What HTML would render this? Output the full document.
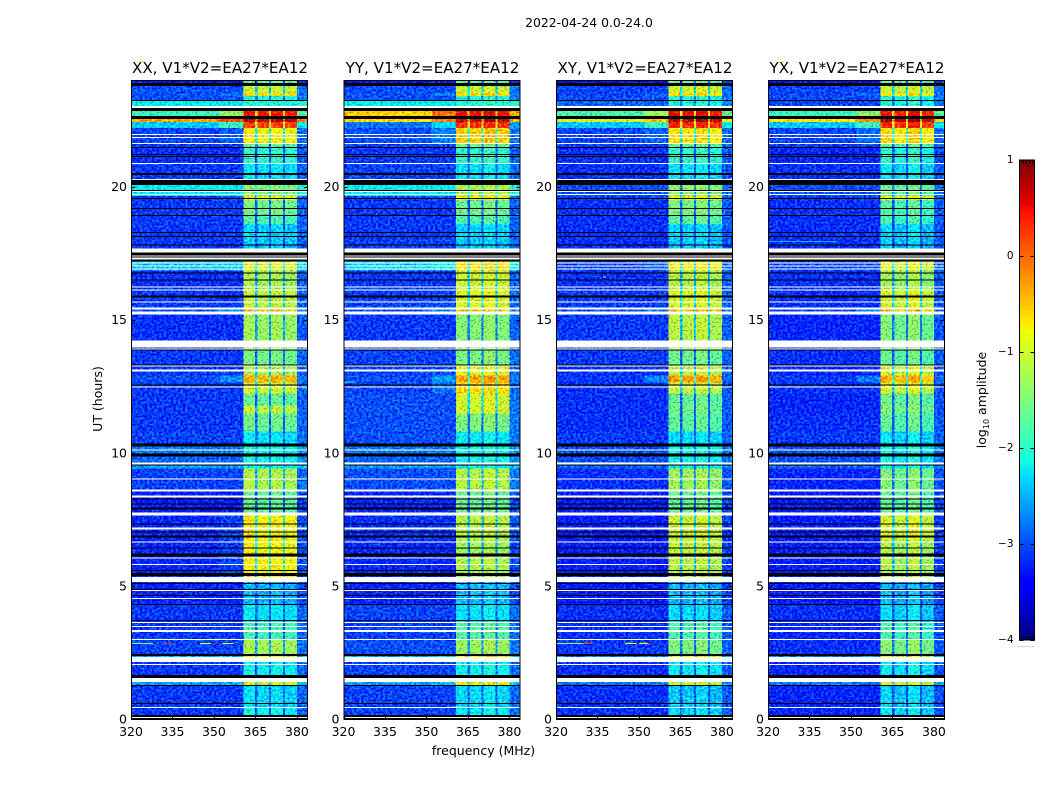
<!DOCTYPE html>
<html>
<head>
<meta charset="utf-8">
<title>2022-04-24 0.0-24.0</title>
<style>
html,body{margin:0;padding:0;background:#fff;width:1050px;height:800px;overflow:hidden}
svg{display:block}
text{font-family:"DejaVu Sans","Liberation Sans",sans-serif;fill:#000}
</style>
</head>
<body>
<svg id="figure" xmlns="http://www.w3.org/2000/svg" width="1050" height="800" viewBox="0 0 1050 800">
<defs>
<filter id="speckle" filterUnits="userSpaceOnUse" x="0" y="0" width="1050" height="800" color-interpolation-filters="sRGB">
<feTurbulence type="fractalNoise" baseFrequency="0.42 0.5" numOctaves="1" seed="4" result="n"/>
<feColorMatrix in="n" type="matrix" values="0.7 0 0 0 0.15  3 0 0 0 -1  0 0 0.6 0 0.2  0 0 0 0 1" result="c"/>
<feComposite in="c" in2="SourceAlpha" operator="in" result="clipped"/>
<feComposite in="SourceGraphic" in2="clipped" operator="arithmetic" k1="0" k2="1" k3="0.5" k4="-0.25"/>
</filter>
</defs>
<text x="589" y="27" font-size="12.4" text-anchor="middle">2022-04-24 0.0-24.0</text>
<text x="483.500" y="755" font-size="12.5" text-anchor="middle">frequency (MHz)</text>
<text x="0" y="0" font-size="12.5" text-anchor="middle" transform="translate(102 399) rotate(-90)">UT (hours)</text>
<text x="0" y="0" font-size="12.5" text-anchor="middle" transform="translate(986 400) rotate(-90)">log<tspan font-size="8" dy="3">10</tspan><tspan dy="-3"> amplitude</tspan></text>
</svg>
<script>
// Time sampling of the spectrogram rows and frequency/time ticks
const hoursPerBin = 0.0375;
const totalBins = 640;
const freqMin = 320;
const freqMax = 384;
const freqTicks = [320, 335, 350, 365, 380];
const utTicks = [0, 5, 10, 15, 20];
const colorTicks = [1, 0, -1, -2, -3, -4];
const colorTickLabels = ['1', '0', '\u22121', '\u22122', '\u22123', '\u22124'];
const polarisations = ['XX', 'YY', 'XY', 'YX'];
const panelLefts = [131, 343.5, 556, 768];

// Spectral windows (MHz)
const subbandLow = [360.6, 365.8, 370.7, 375.7];
const subbandHigh = [364.9, 369.9, 374.9, 380.0];

// Start bin of each level zone (time ascending)
const zoneStart = [0,11,34,41,57,64,79,97,115,137,163,179,204,228,251,254,263,273,288,306,314,326,337,344,355,370,405,411,431,449,458,471,481,496,506,520,524,535,556,572,576,592,598,601,609,620,624,627,634];

// log10 amplitude off-band, per zone
const bgXX = [-3.1,-3.1,-2.6,-3.1,-2.5,-3.05,-3.1,-3.1,-3.2,-3.2,-3.2,-3.2,-3.25,-3.05,-2.6,-2.9,-2.8,-3.05,-3.1,-3.1,-3.1,-3.1,-3.0,-3.1,-3.1,-3.15,-3.0,-3.1,-3.15,-2.45,-3.1,-3.1,-3.1,-3.1,-3.1,-3.1,-2.2,-3.1,-3.15,-3.1,-3.05,-2.4,-0.35,-1.9,-2.2,-3,-3,-3,-3.3];
const bgYY = [-3.05,-3.05,-2.6,-3.05,-2.5,-3.0,-3.05,-3.05,-3.2,-3.2,-3.2,-3.15,-3.2,-3.0,-2.6,-2.9,-2.8,-3.0,-3.0,-3.0,-3.0,-3.05,-3.0,-3.05,-3.05,-3.1,-3.0,-3.05,-3.1,-2.35,-3.05,-3.05,-3.1,-3.1,-3.1,-3.05,-2.2,-3.05,-3.1,-3.05,-3.0,-2.8,-0.6,-0.55,-2.2,-3,-3,-3,-3.3];
const bgXY = [-3.15,-3.15,-2.8,-3.15,-2.8,-3.1,-3.15,-3.15,-3.25,-3.25,-3.25,-3.25,-3.25,-3.15,-2.9,-3.0,-3.0,-3.1,-3.15,-3.15,-3.15,-3.15,-3.1,-3.15,-3.1,-3.1,-3.05,-3.1,-3.15,-3.05,-3.15,-3.15,-3.15,-3.15,-3.15,-3.1,-3.0,-3.15,-3.15,-3.1,-3.05,-2.4,-1.0,-1.8,-2.9,-3,-3.05,-3.05,-3.3];
const bgYX = [-3.2,-3.2,-2.8,-3.2,-2.8,-3.15,-3.2,-3.15,-3.25,-3.25,-3.25,-3.25,-3.25,-3.2,-2.9,-3.0,-3.0,-3.1,-3.15,-3.2,-3.2,-3.15,-3.1,-3.2,-3.15,-3.2,-3.05,-3.15,-3.15,-3.05,-3.15,-3.15,-3.15,-3.15,-3.15,-3.1,-3.0,-3.15,-3.2,-3.1,-3.05,-2.4,-0.7,-1.9,-3.05,-3,-3.05,-3.05,-3.3];

// log10 amplitude in the spectral windows, per zone
const bandXX = [-2.15,-2.3,-0.95,-2.15,-0.8,-1.25,-1.85,-2.25,-2.5,-0.75,-0.8,-0.75,-1.65,-1.2,-2.2,-2.1,-2.1,-2.25,-1.6,-1.1,-1.65,-1.0,-0.4,-1.2,-1.55,-1.3,-0.45,-1.1,-1.25,-0.9,-2.3,-2.4,-2.35,-1.8,-1.55,-0.8,-1.45,-2.25,-1.95,-1.7,-0.8,0.2,0.8,0.5,-2.05,-2.0,-0.6,-1.05,-1.6];
const bandYY = [-2.2,-2.3,-0.75,-2.15,-0.7,-1.3,-1.75,-2.25,-2.45,-1.2,-1.3,-1.15,-1.6,-1.15,-2.2,-2.1,-2.1,-2.2,-1.5,-1.0,-1.0,-0.6,-0.3,-0.9,-1.5,-1.45,-0.5,-0.95,-1.05,-0.65,-2.3,-2.4,-2.35,-1.8,-1.6,-0.8,-1.2,-2.25,-1.95,-1.6,-0.55,0.3,0.8,0.55,-2.0,-2.0,-0.6,-1.05,-1.7];
const bandXY = [-2.3,-2.4,-1.0,-2.2,-0.8,-1.5,-1.8,-2.3,-2.5,-1.15,-1.1,-1.05,-1.65,-1.3,-2.2,-2.1,-2.1,-2.3,-1.7,-1.6,-1.65,-1.1,-0.3,-1.1,-1.6,-1.15,-0.45,-1.0,-1.2,-0.75,-2.3,-2.4,-2.35,-1.7,-1.5,-0.8,-1.4,-2.25,-1.95,-1.7,-0.7,0.35,0.85,0.55,-2.05,-2.0,-0.65,-1.0,-1.6];
const bandYX = [-2.25,-2.35,-1.0,-2.2,-0.9,-1.45,-1.85,-2.3,-2.5,-1.2,-1.2,-1.0,-1.65,-1.5,-2.2,-2.1,-2.1,-2.25,-1.7,-1.5,-1.6,-1.0,-0.4,-1.0,-1.65,-1.5,-0.45,-1.0,-1.3,-0.9,-2.3,-2.4,-2.35,-1.85,-1.75,-0.85,-1.6,-2.25,-2.0,-1.75,-0.65,0.35,0.85,0.5,-2.05,-2.0,-0.7,-1.05,-1.6];

// Per-window offsets in log10 amplitude
const tiltXX = [0.05, -0.02, 0.02, -0.05];
const tiltYY = [0.0, 0.0, 0.08, -0.02];
const tiltXY = [0.02, 0.0, 0.06, -0.08];
const tiltYX = [0.04, -0.08, 0.1, -0.12];

// Flagged (no data) rows: start bin and duration in bins
const whiteStart = [612,585,582,576,556,540,528,525,467,463,460,456,453,450,432,429,417,410,405,372,370,353,348,332,269,255,240,228,222,204,190,177,161,154,137,128,120,96,92,87,79,57,54,37,11,1];
const whiteLen = [2,1,1,1,1,1,1,1,4,1,2,1,1,1,1,1,1,2,3,7,1,1,2,1,1,2,1,2,2,3,2,1,1,1,5,1,1,1,1,2,1,5,1,4,1,1];
const blackStart = [634,619,609,601,572,565,563,545,535,529,521,511,504,487,483,474,464,462,458,446,439,422,369,354,334,273,263,254,220,215,210,195,187,182,171,163,148,143,135,129,123,114,98,63,41,33,15,2,0];
const blackLen = [3,1,3,3,1,1,1,2,5,1,1,1,1,1,1,1,3,1,2,1,1,2,1,1,1,3,3,1,1,1,2,1,1,2,1,3,1,3,1,1,1,1,1,2,3,1,1,2,1];

// Narrow-band interference tracks: panel index, start/end MHz, bin, log10 amplitude
const rfiPanel = [0,0,0,0,0,2,2,2,2,2,3,1,0,2,3,0];
const rfiFreqLow = [320,333,345,350,353,320,330,345,350,353.5,320,320,324,337,325,335];
const rfiFreqHigh = [328,335,349,351,357,331,333,349,353,354.5,345,324,325,338,326,336];
const rfiBin = [75,75,75,75,75,75,75,75,75,75,478,337,658,442,658,458];
const rfiLevel = [-1.6,0.3,-1.0,0.3,-0.9,-1.4,0.2,-1.0,-0.8,0.4,-2.5,-2.0,-1.0,-0.8,-1.0,-1.5];

// Colour bar range
const colorMin = -4;
const colorMax = 1;
const colorSteps = 256;

const panelBg = [bgXX, bgYY, bgXY, bgYX];
const panelBand = [bandXX, bandYY, bandXY, bandYX];
const panelTilt = [tiltXX, tiltYY, tiltXY, tiltYX];

const PANEL_W = 177;
const PLOT_TOP = 80;
const PLOT_BOTTOM = 719;
const CB_X = 1019.5;
const CB_W = 15;
const CB_TOP = 160;
const CB_BOTTOM = 640;

const svg = document.getElementById('figure');
const NS = 'http://www.w3.org/2000/svg';

function svgEl(parent, tag, attrs) {
  const el = document.createElementNS(NS, tag);
  for (const k in attrs) el.setAttribute(k, attrs[k]);
  parent.appendChild(el);
  return el;
}
function xScale(panel, mhz) {
  return panelLefts[panel] + (mhz - freqMin) * PANEL_W / (freqMax - freqMin);
}
function yScale(hours) {
  return PLOT_BOTTOM - hours * (PLOT_BOTTOM - PLOT_TOP) / (totalBins * hoursPerBin);
}
function binY(bin) {
  return yScale(bin * hoursPerBin);
}
function cbY(v) {
  return CB_TOP + (colorMax - v) * (CB_BOTTOM - CB_TOP) / (colorMax - colorMin);
}
function interp(pts, t) {
  if (t <= pts[0][0]) return pts[0][1];
  for (let i = 1; i < pts.length; i++) {
    if (t <= pts[i][0]) {
      const a = pts[i - 1], b = pts[i];
      return a[1] + (b[1] - a[1]) * (t - a[0]) / (b[0] - a[0]);
    }
  }
  return pts[pts.length - 1][1];
}
const jetR = [[0, 0], [0.35, 0], [0.66, 1], [0.89, 1], [1, 0.5]];
const jetG = [[0, 0], [0.125, 0], [0.375, 1], [0.64, 1], [0.91, 0], [1, 0]];
const jetB = [[0, 0.5], [0.11, 1], [0.34, 1], [0.65, 0], [1, 0]];
function colorOf(v) {
  const t = Math.max(0, Math.min(1, (v - colorMin) / (colorMax - colorMin)));
  const r = Math.round(255 * interp(jetR, t));
  const g = Math.round(255 * interp(jetG, t));
  const b = Math.round(255 * interp(jetB, t));
  return 'rgb(' + r + ',' + g + ',' + b + ')';
}
function cellRect(parent, panel, f0, f1, b0, b1, level) {
  const x0 = xScale(panel, f0), x1 = xScale(panel, f1);
  const y0 = binY(b1), y1 = binY(b0);
  return svgEl(parent, 'rect', {x: x0.toFixed(2), y: y0.toFixed(2), width: (x1 - x0).toFixed(2), height: (y1 - y0).toFixed(2), fill: colorOf(level), 'shape-rendering': 'crispEdges'});
}

polarisations.forEach(function (pol, p) {
  const left = panelLefts[p];
  const panelGroup = svgEl(svg, 'g', {});
  
  

  const heat = svgEl(panelGroup, 'g', {filter: 'url(#speckle)'});
  
  

  zoneStart.forEach(function (start, z) {
    const end = z + 1 < zoneStart.length ? zoneStart[z + 1] : totalBins;
    const bg = panelBg[p][z];
    const band = panelBand[p][z];
    const shoulderLevel = bg + Math.min(0.5, Math.max(0, band + 1) * 0.55);

    const bgCell = cellRect(heat, p, freqMin, 352, start, end, bg);
    
    

    const shoulderCell = cellRect(heat, p, 352, subbandLow[0], start, end, shoulderLevel);
    
    

    const gapLevel = Math.max(bg + 0.2, band - 1.3);
    const gapCell = cellRect(heat, p, subbandLow[0], subbandHigh[3], start, end, gapLevel);
    
    

    subbandLow.forEach(function (lo, s) {
      const bandCell = cellRect(heat, p, lo, subbandHigh[s], start, end, band + panelTilt[p][s]);
      
      
    });

    const edgeCell = cellRect(heat, p, subbandHigh[3], freqMax, start, end, bg + 0.2);
    
    
  });

  rfiPanel.forEach(function (owner, i) {
    if (owner !== p) return;
    const track = cellRect(panelGroup, p, rfiFreqLow[i], rfiFreqHigh[i], rfiBin[i], rfiBin[i] + 1, rfiLevel[i]);
    
    
  });

  whiteStart.forEach(function (start, i) {
    const flag = svgEl(panelGroup, 'rect', {x: left, y: binY(start + whiteLen[i]).toFixed(2), width: PANEL_W, height: (binY(start) - binY(start + whiteLen[i])).toFixed(2), fill: '#fff', 'shape-rendering': 'crispEdges'});
    
    
  });
  blackStart.forEach(function (start, i) {
    const flag = svgEl(panelGroup, 'rect', {x: left, y: binY(start + blackLen[i]).toFixed(2), width: PANEL_W, height: (binY(start) - binY(start + blackLen[i])).toFixed(2), fill: '#000', 'shape-rendering': 'crispEdges'});
    
    
  });

  const frame = svgEl(panelGroup, 'rect', {x: left + 0.5, y: PLOT_TOP + 0.5, width: PANEL_W - 1, height: PLOT_BOTTOM - PLOT_TOP, fill: 'none', stroke: '#000', 'stroke-width': 1});
  
  

  freqTicks.forEach(function (f) {
    const x = Math.round(xScale(p, f)) + 0.5;
    const tickB = svgEl(panelGroup, 'line', {x1: x, x2: x, y1: PLOT_BOTTOM, y2: PLOT_BOTTOM - 4, stroke: '#000'});
    
    
    const tickT = svgEl(panelGroup, 'line', {x1: x, x2: x, y1: PLOT_TOP, y2: PLOT_TOP + 4, stroke: '#000'});
    
    
    const label = svgEl(panelGroup, 'text', {x: xScale(p, f), y: 736, 'font-size': 12.5, 'text-anchor': 'middle'});
    
    
    label.textContent = String(f);
  });

  utTicks.forEach(function (h) {
    const y = Math.round(yScale(h)) + 0.5;
    const tickL = svgEl(panelGroup, 'line', {x1: left, x2: left + 4, y1: y, y2: y, stroke: '#000'});
    
    
    const tickR = svgEl(panelGroup, 'line', {x1: left + PANEL_W, x2: left + PANEL_W - 4, y1: y, y2: y, stroke: '#000'});
    
    
    const label = svgEl(panelGroup, 'text', {x: left - 4, y: yScale(h) + 4.5, 'font-size': 12.5, 'text-anchor': 'end'});
    
    
    label.textContent = String(h);
  });

  const title = svgEl(panelGroup, 'text', {x: left + PANEL_W / 2 + 0.5, y: 73, 'font-size': 15.1, 'text-anchor': 'middle'});
  
  
  title.textContent = pol + ', V1*V2=EA27*EA12';
});

// Colour bar
const cb = svgEl(svg, 'g', {});


for (let i = 0; i < colorSteps; i++) {
  const v0 = colorMin + (colorMax - colorMin) * i / colorSteps;
  const v1 = colorMin + (colorMax - colorMin) * (i + 1) / colorSteps;
  const seg = svgEl(cb, 'rect', {x: CB_X, y: cbY(v1).toFixed(2), width: CB_W, height: (cbY(v0) - cbY(v1) + 0.4).toFixed(2), fill: colorOf((v0 + v1) / 2)});
  
  
}
const cbFrame = svgEl(cb, 'rect', {x: CB_X, y: CB_TOP, width: CB_W, height: CB_BOTTOM - CB_TOP, fill: 'none', stroke: '#000', 'stroke-width': 1});


colorTicks.forEach(function (v, i) {
  const y = Math.round(cbY(v)) + 0.5;
  const tickL = svgEl(cb, 'line', {x1: CB_X, x2: CB_X + 4, y1: y, y2: y, stroke: '#000'});
  
  
  const tickR = svgEl(cb, 'line', {x1: CB_X + CB_W, x2: CB_X + CB_W - 4, y1: y, y2: y, stroke: '#000'});
  
  
  const label = svgEl(cb, 'text', {x: 1013.5, y: cbY(v) + 3, 'font-size': 10.5, 'text-anchor': 'end'});
  
  
  label.textContent = colorTickLabels[i];
});
for (let i = 1; i <= 4; i++) {
  const x = Math.round(CB_X + CB_W * i / 5) + 0.5;
  const minorTop = svgEl(cb, 'line', {x1: x, x2: x, y1: CB_TOP, y2: CB_TOP + 4, stroke: '#000'});
  
  
  const minorBottom = svgEl(cb, 'line', {x1: x, x2: x, y1: CB_BOTTOM, y2: CB_BOTTOM - 4, stroke: '#000'});
  
  
}
const cbDots = svgEl(cb, 'line', {x1: 1017.5, x2: 1035, y1: 646.5, y2: 646.5, stroke: '#888', 'stroke-dasharray': '1 2'});


</script>
</body>
</html>
